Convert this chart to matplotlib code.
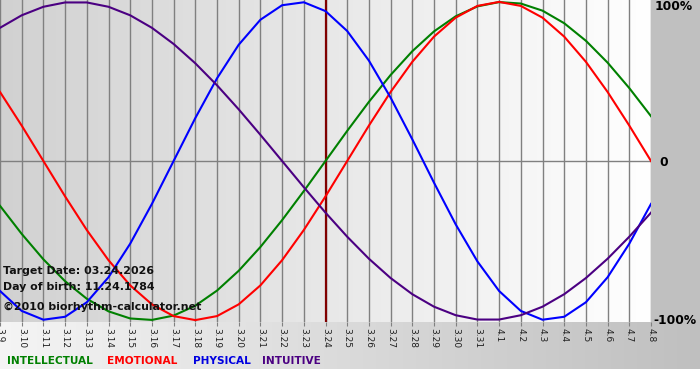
import numpy as np
import matplotlib
matplotlib.use('Agg')
import matplotlib.pyplot as plt

# day labels along the x axis (3.9 .. 4.8)
dates = ['3.9', '3.10', '3.11', '3.12', '3.13', '3.14', '3.15', '3.16', '3.17', '3.18',
         '3.19', '3.20', '3.21', '3.22', '3.23', '3.24', '3.25', '3.26', '3.27', '3.28',
         '3.29', '3.30', '3.31', '4.1', '4.2', '4.3', '4.4', '4.5', '4.6', '4.7', '4.8']
target_idx = 15

# daily biorhythm values (-1 .. 1)
physical = [-0.8170, -0.9423, -0.9977, -0.9791, -0.8879, -0.7308, -0.5196, -0.2698, 0.0,
            0.2698, 0.5196, 0.7308, 0.8879, 0.9791, 0.9977, 0.9423, 0.8170, 0.6311, 0.3984,
            0.1362, -0.1362, -0.3984, -0.6311, -0.8170, -0.9423, -0.9977, -0.9791, -0.8879,
            -0.7308, -0.5196, -0.2698]
emotional = [0.4339, 0.2225, 0.0, -0.2225, -0.4339, -0.6235, -0.7818, -0.9010, -0.9749,
             -1.0, -0.9749, -0.9010, -0.7818, -0.6235, -0.4339, -0.2225, 0.0, 0.2225, 0.4339,
             0.6235, 0.7818, 0.9010, 0.9749, 1.0, 0.9749, 0.9010, 0.7818, 0.6235, 0.4339,
             0.2225, 0.0]
intellectual = [-0.2817, -0.4582, -0.6182, -0.7557, -0.8660, -0.9450, -0.9898, -0.9989,
                -0.9718, -0.9096, -0.8146, -0.6901, -0.5406, -0.3717, -0.1893, 0.0, 0.1893,
                0.3717, 0.5406, 0.6901, 0.8146, 0.9096, 0.9718, 0.9989, 0.9898, 0.9450,
                0.8660, 0.7557, 0.6182, 0.4582, 0.2817]
intuitive = [0.8372, 0.9158, 0.9694, 0.9966, 0.9966, 0.9694, 0.9158, 0.8372, 0.7357, 0.6142,
             0.4759, 0.3247, 0.1646, 0.0, -0.1646, -0.3247, -0.4759, -0.6142, -0.7357,
             -0.8372, -0.9158, -0.9694, -0.9966, -0.9966, -0.9694, -0.9158, -0.8372,
             -0.7357, -0.6142, -0.4759, -0.3247]

W, H = 700, 380
PW, PH = 651, 322  # plot area in pixels

fig = plt.figure(figsize=(W / 100, H / 100), dpi=100)

# background: gradient plot area, grey right panel, gradient bottom strip
img = np.ones((H, W, 3))
g = np.linspace(0.82, 1.0, PW)
img[:PH, :PW, :] = g[None, :, None]
img[:PH, PW:, :] = 0.753
b = np.linspace(0.96, 0.75, W)
img[PH:369, :, :] = b[None, :, None]
bg = fig.add_axes([0, 0, 1, 1])
bg.imshow(img, aspect='auto', extent=(0, W, H, 0), interpolation='bilinear')
bg.axis('off')
bg.set_zorder(0)

ax = fig.add_axes([0, 1 - PH / H, PW / W, PH / H])
ax.set_zorder(1)
ax.patch.set_alpha(0)
x = np.arange(len(dates))
ax.set_xlim(0, len(dates) - 1)
ax.set_ylim(-1.012, 1.012)

for i in x:
    ax.axvline(i, color='#808080', lw=1, zorder=1)
ax.axhline(0, color='#808080', lw=1, zorder=1)
ax.axvline(target_idx, color='#800000', lw=1.6, zorder=2)

ax.plot(x, intellectual, color='#008000', lw=1.5, zorder=3)
ax.plot(x, emotional, color='#ff0000', lw=1.5, zorder=3)
ax.plot(x, physical, color='#0000ff', lw=1.5, zorder=3)
ax.plot(x, intuitive, color='#4b0082', lw=1.5, zorder=3)

for s in ax.spines.values():
    s.set_visible(False)
ax.set_yticks([])
ax.set_xticks(x)
ax.set_xticklabels(dates, rotation=-90, fontsize=6.5, color='#202020')
ax.tick_params(axis='x', length=3, color='#808080', pad=1)

def px(xp, yp):
    return xp / W, 1 - yp / H

fig.text(*px(655, 7), '100%', fontsize=8.8, fontweight='bold', va='center', ha='left')
fig.text(*px(659, 162), '0', fontsize=8.8, fontweight='bold', va='center', ha='left')
fig.text(*px(653, 321), '-100%', fontsize=8.8, fontweight='bold', va='center', ha='left')

info = ['Target Date: 03.24.2026', 'Day of birth: 11.24.1784', '\u00a92010 biorhythm-calculator.net']
for t, yp in zip(info, [271, 287, 307]):
    fig.text(*px(3, yp), t, fontsize=7.9, fontweight='bold', va='center', ha='left',
             color='#111111', zorder=5)

legend = [('INTELLECTUAL', '#008000', 7), ('EMOTIONAL', '#ff0000', 107),
          ('PHYSICAL', '#0000e0', 193), ('INTUITIVE', '#4b0082', 262)]
for t, c, xp in legend:
    fig.text(*px(xp, 361), t, fontsize=7.6, fontweight='bold', color=c, va='center', ha='left')

fig.savefig('out.png', dpi=100)
